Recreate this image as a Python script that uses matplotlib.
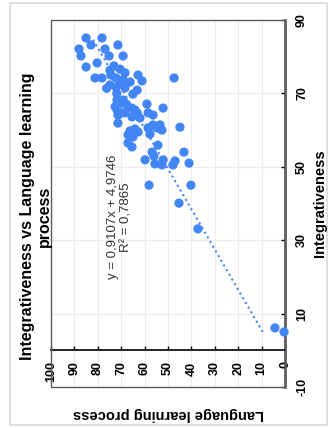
import numpy as np
import matplotlib.pyplot as plt
from matplotlib.patches import Rectangle

plt.rcParams['font.family'] = ['Liberation Sans', 'DejaVu Sans']

# Language learning process scores
lang = [85.0, 78.2, 82.9, 88.0, 76.9, 71.4, 87.2, 75.2, 69.2, 80.3, 85.0, 73.1, 70.5, 68.4,
        62.8, 47.4, 81.2, 78.2, 74.4, 72.2, 69.2, 66.2, 61.1, 74.8, 72.2, 68.4, 63.2, 65.0,
        59.0, 52.1, 64.1, 71.8, 69.7, 67.5, 65.4, 71.8, 69.7, 71.4, 68.4, 63.2, 62.0, 58.5,
        56.4, 71.4, 65.4, 44.9, 58.5, 54.7, 52.6, 66.2, 64.1, 62.8, 57.7, 56.4, 53.4, 67.1,
        65.0, 67.1, 65.4, 54.3, 56.8, 56.0, 43.2, 59.8, 55.6, 52.1, 52.6, 47.9, 47.0, 41.0,
        58.1, 40.2, 45.3, 37.2, 4.3, 0.4, 74.8, 76.2, 70.5, 71.9, 69.1, 72.6]
# Integrativeness scores
integ = [85.1, 85.1, 83.2, 82.1, 82.1, 83.2, 80.2, 80.2, 80.2, 78.3, 77.2, 77.5, 76.6, 75.6,
         75.0, 74.2, 74.2, 74.2, 75.0, 74.2, 73.7, 73.1, 73.4, 72.3, 71.7, 71.5, 70.9, 69.8,
         67.1, 66.0, 65.5, 68.2, 67.4, 66.8, 66.0, 65.5, 64.7, 64.1, 64.7, 64.7, 63.3, 64.7,
         64.1, 61.9, 63.6, 60.8, 60.6, 60.6, 60.0, 59.8, 60.3, 59.5, 58.9, 61.4, 61.4, 58.7,
         58.1, 56.5, 55.4, 55.9, 54.0, 52.9, 54.0, 51.9, 50.8, 51.9, 50.5, 50.5, 51.6, 51.0,
         45.0, 45.0, 40.1, 33.1, 6.1, 5.0, 76.3, 71.4, 72.8, 70.0, 68.2, 66.4]

slope, intercept, r2 = 0.9107, 4.9746, 0.7865

lang_ticks = list(range(0, 101, 10))
integ_ticks = list(range(-10, 91, 20))

blue = '#4285f4'

fig = plt.figure(figsize=(3.29, 4.28), dpi=100)
fig.patches.append(Rectangle((10 / 329, 3 / 428), 317 / 329, 422 / 428, transform=fig.transFigure,
                             fill=False, ec='#d9d9d9', lw=1.2))

ax = fig.add_axes([51 / 329, 1 - 387 / 428, 234 / 329, 367 / 428])
ax.set_xlim(100, 0)
ax.set_ylim(-10, 90)

ax.grid(True, color='#ececec', lw=0.8, zorder=0)
ax.set_axisbelow(True)

# frame of the plot area
ax.add_patch(Rectangle((0, 0), 1, 1, transform=ax.transAxes, fill=False,
                       ec='#5a5a5a', lw=1.0, clip_on=False, zorder=3))
for s in ['top', 'left']:
    ax.spines[s].set_visible(False)
ax.spines['bottom'].set_position(('data', 0))
ax.spines['bottom'].set_color('black')
ax.spines['bottom'].set_linewidth(1.2)
ax.spines['right'].set_color('#4a4a4a')
ax.spines['right'].set_linewidth(1.8)

ax.set_xticks(lang_ticks, [str(t) for t in lang_ticks], rotation=90, fontsize=9, fontweight='bold')
ax.tick_params(axis='x', direction='in', length=3, width=1, pad=8)
ax.yaxis.tick_right()
ax.set_yticks(integ_ticks, [str(t) for t in integ_ticks], rotation=90, va='center',
              fontsize=9, fontweight='bold')
ax.tick_params(axis='y', direction='in', length=3, width=1, pad=8)

# linear trendline over the range of the data
ii = np.array([min(integ), max(integ)])
ax.plot(slope * ii + intercept, ii, ls=(0, (1, 1.6)), lw=1.5, color=blue, zorder=4)

ax.scatter(lang, integ, s=44, color=blue, edgecolors='none', zorder=5, clip_on=False)

ax.text(70.5, 36.3, f'y = {slope:.4f}x + {intercept:.4f}\nR² = {r2:.4f}'.replace('.', ','),
        rotation=90, ha='center', va='center', multialignment='center',
        fontsize=9.5, color='#333333', linespacing=1.2, zorder=6)

fig.text(36 / 329, 1 - 216 / 428, 'Integrativeness vs Language learning\nprocess',
         rotation=90, ha='center', va='center', multialignment='center',
         fontsize=11.5, fontweight='bold', linespacing=1.15)
fig.text(169 / 329, 1 - 414 / 428, 'Language learning process', rotation=180,
         ha='center', va='center', fontsize=10.5, fontweight='bold')
fig.text(320 / 329, 1 - 203 / 428, 'Integrativeness', rotation=90,
         ha='center', va='center', fontsize=10.5, fontweight='bold')

fig.savefig('out.png', dpi=100)
